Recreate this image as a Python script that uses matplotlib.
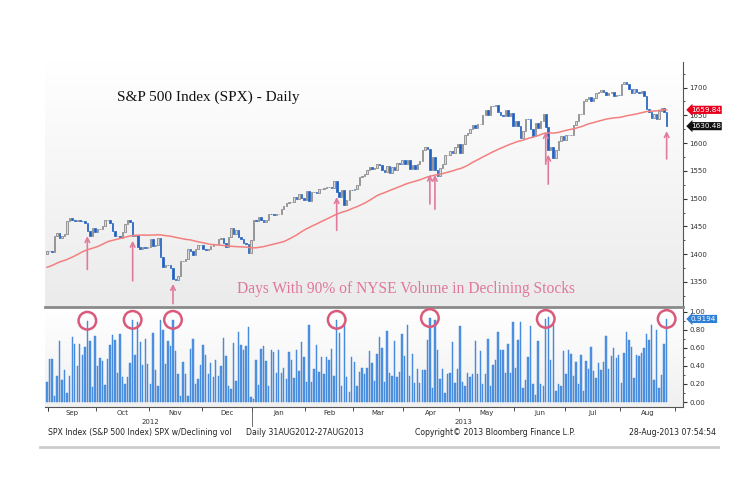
import numpy as np
import pandas as pd
import matplotlib
matplotlib.use('Agg')
import matplotlib.pyplot as plt
from matplotlib.transforms import blended_transform_factory

# S&P 500 closes before the window (needed for the 50 day average)
prior_closes = [1335.02, 1313.72, 1319.99, 1331.85, 1329.04, 1362.16,
                1365.51, 1374.02, 1367.58, 1354.68, 1352.46, 1341.47, 1341.45, 1334.76, 1356.78, 1353.64,
                1363.67, 1372.78, 1376.51, 1362.66, 1350.52, 1338.31, 1337.89, 1360.02, 1385.97, 1385.30, 1379.32,
                1375.32, 1365.00, 1390.99, 1394.23, 1401.35, 1402.22, 1402.80, 1405.87, 1404.11, 1403.93, 1405.53,
                1415.51, 1418.16, 1418.13, 1413.17, 1413.49, 1402.08, 1411.13, 1410.44, 1409.30, 1410.49, 1399.48]

# daily closes 31AUG2012 - 27AUG2013
closes = [1406.58,
          1404.94, 1403.44, 1432.12, 1437.92, 1429.08, 1433.56, 1436.56, 1459.99, 1465.77, 1461.19,
          1459.32, 1461.05, 1460.26, 1460.15, 1456.89, 1441.59, 1433.32, 1447.15, 1440.67,
          1444.49, 1445.75, 1450.99, 1461.40, 1460.93, 1455.88, 1441.48, 1432.56, 1432.84, 1428.59,
          1440.13, 1454.92, 1460.91, 1457.34, 1433.19, 1433.82, 1413.11, 1408.75, 1412.97, 1411.94, 1412.16,
          1427.59, 1414.20, 1417.26, 1428.39, 1394.53, 1377.51, 1379.85, 1380.03, 1374.53, 1355.49,
          1353.33, 1359.88, 1386.89, 1387.81, 1391.03, 1409.15, 1406.29, 1398.94, 1409.93, 1415.95, 1416.18,
          1409.46, 1407.05, 1409.28, 1413.94, 1418.07, 1418.55, 1427.84, 1428.48, 1419.45, 1413.58,
          1430.36, 1446.79, 1435.81, 1443.69, 1430.15, 1426.66, 1419.83, 1418.10, 1402.43, 1426.19,
          1462.42, 1459.37, 1466.47, 1461.89, 1457.15, 1461.02, 1472.12, 1472.05, 1470.68, 1472.34,
          1472.63, 1480.94, 1485.98, 1492.56, 1494.81, 1494.82, 1502.96, 1500.18, 1507.84, 1501.96, 1498.11,
          1513.17, 1495.71, 1511.29, 1512.12, 1509.39, 1517.93, 1517.01, 1519.43, 1520.33, 1521.38,
          1519.79, 1530.94, 1511.95, 1502.42, 1515.60, 1487.85, 1496.94, 1515.99, 1514.68,
          1518.20, 1525.20, 1539.79, 1541.46, 1544.26, 1551.18, 1556.22, 1552.48, 1554.52, 1563.23,
          1560.70, 1552.10, 1548.34, 1558.71, 1545.80, 1556.89, 1551.69, 1563.77, 1562.85, 1569.19,
          1562.17, 1570.25, 1553.69, 1559.98, 1553.28, 1563.07, 1568.61, 1587.73, 1593.37, 1588.85, 1552.36,
          1574.57, 1552.01, 1541.61, 1555.25, 1562.50, 1578.78, 1578.79, 1585.16, 1582.24, 1593.61, 1597.57,
          1582.70, 1597.59, 1614.42, 1617.50, 1625.96, 1632.69, 1626.67, 1633.70, 1633.77, 1650.34, 1658.78,
          1650.47, 1667.47, 1666.29, 1669.16, 1655.35, 1650.51, 1649.60, 1660.06, 1648.36, 1654.41, 1630.74,
          1640.42, 1631.38, 1608.90, 1622.56, 1643.38, 1642.81, 1626.13, 1612.52, 1636.36, 1626.73,
          1639.04, 1651.81, 1628.93, 1588.19, 1592.43, 1573.09, 1588.03, 1603.26, 1613.20, 1606.28,
          1614.96, 1614.08, 1615.41, 1631.89, 1640.46, 1652.32, 1652.62, 1675.02, 1680.19, 1682.50, 1676.26,
          1680.91, 1689.37, 1692.09, 1695.53, 1692.39, 1685.94, 1690.25, 1691.65, 1685.33, 1685.96, 1685.73,
          1706.87, 1709.67, 1707.14, 1697.37, 1690.91, 1697.48, 1691.42, 1689.47, 1694.16, 1685.39,
          1661.32, 1655.83, 1646.06, 1652.35, 1642.80, 1656.96, 1663.50, 1656.78, 1630.48]

# share of NYSE volume in declining stocks
decline_vol = [0.22, 0.48, 0.48, 0.07, 0.29, 0.67, 0.24, 0.35, 0.10, 0.29,
               0.72, 0.64, 0.40, 0.64, 0.52, 0.61, 0.90, 0.68, 0.17, 0.73,
               0.40, 0.49, 0.45, 0.19, 0.48, 0.63, 0.74, 0.69, 0.32, 0.75,
               0.28, 0.20, 0.28, 0.43, 0.91, 0.52, 0.89, 0.66, 0.41, 0.70,
               0.42, 0.20, 0.76, 0.35, 0.18, 0.91, 0.80, 0.42, 0.68, 0.62,
               0.91, 0.56, 0.31, 0.07, 0.44, 0.31, 0.07, 0.59, 0.70, 0.20,
               0.25, 0.41, 0.63, 0.52, 0.31, 0.43, 0.28, 0.46, 0.29, 0.40,
               0.71, 0.51, 0.18, 0.14, 0.65, 0.23, 0.77, 0.63, 0.58, 0.62,
               0.83, 0.06, 0.03, 0.47, 0.19, 0.59, 0.62, 0.45, 0.18, 0.58,
               0.55, 0.32, 0.58, 0.32, 0.38, 0.25, 0.55, 0.47, 0.27, 0.58,
               0.34, 0.66, 0.50, 0.22, 0.85, 0.22, 0.36, 0.63, 0.33, 0.50,
               0.31, 0.50, 0.46, 0.59, 0.29, 0.91, 0.76, 0.18, 0.86, 0.28,
               0.11, 0.50, 0.44, 0.18, 0.33, 0.38, 0.31, 0.38, 0.57, 0.43,
               0.23, 0.53, 0.72, 0.60, 0.22, 0.79, 0.32, 0.29, 0.67, 0.28,
               0.33, 0.75, 0.51, 0.85, 0.29, 0.53, 0.21, 0.36, 0.21, 0.35,
               0.35, 0.69, 0.93, 0.15, 0.91, 0.58, 0.26, 0.37, 0.10, 0.31,
               0.32, 0.66, 0.21, 0.37, 0.84, 0.22, 0.18, 0.32, 0.28, 0.31,
               0.67, 0.31, 0.57, 0.20, 0.31, 0.70, 0.18, 0.41, 0.46, 0.78,
               0.58, 0.58, 0.32, 0.64, 0.32, 0.89, 0.38, 0.69, 0.89, 0.16,
               0.24, 0.50, 0.84, 0.20, 0.08, 0.68, 0.20, 0.18, 0.92, 0.94,
               0.47, 0.85, 0.12, 0.20, 0.18, 0.57, 0.31, 0.58, 0.53, 0.29,
               0.44, 0.20, 0.52, 0.12, 0.45, 0.37, 0.61, 0.34, 0.27, 0.43,
               0.35, 0.44, 0.73, 0.37, 0.51, 0.60, 0.49, 0.52, 0.21, 0.54,
               0.77, 0.69, 0.61, 0.27, 0.52, 0.51, 0.54, 0.60, 0.75, 0.69,
               0.85, 0.24, 0.80, 0.16, 0.30, 0.64, 0.9194]

holidays = ['2012-09-03', '2012-10-29', '2012-10-30', '2012-11-22', '2012-12-25', '2013-01-01',
            '2013-01-21', '2013-02-18', '2013-03-29', '2013-05-27', '2013-07-04']

# 90% down days: arrows on the price chart, circles on the volume chart
arrow_days = [16, 34, 50, 115, 152, 154, 198, 199, 246]
arrow_lengths = [70, 82, 46, 70, 63, 72, 68, 63, 60]
circle_days = [16, 34, 50, 115, 152, 198, 246]

price_ticks = [1350, 1400, 1450, 1500, 1550, 1600, 1650, 1700]
vol_ticks = [0.0, 0.2, 0.4, 0.6, 0.8, 1.0]
ma_last = 1659.84

# trading day calendar (runs to the end of August so the last month tick lands right)
days = pd.bdate_range('2012-08-31', '2013-08-30')
days = days[~days.isin(pd.to_datetime(holidays))]
month_id = days.year * 12 + days.month
starts = np.where(np.diff(month_id) != 0)[0] + 1
bounds = np.r_[starts - 0.5, len(days) - 0.5]
centers = (bounds[:-1] + bounds[1:]) / 2
month_labels = [d.strftime('%b') for d in days[starts]]
jan_bound = starts[days[starts].month == 1][0] - 0.5

c = np.array(closes)
o = np.r_[prior_closes[-1], c[:-1]]
x = np.arange(len(c))
full = pd.Series(prior_closes + closes)
ma50 = full.rolling(50).mean().to_numpy()[len(prior_closes):]
vol = np.array(decline_vol)

fig = plt.figure(figsize=(7.49, 4.99), dpi=100)
ax = fig.add_axes([0.0601, 0.3848, 0.8518, 0.491])
ax2 = fig.add_axes([0.0601, 0.1844, 0.8518, 0.1964])

# soft grey gradient behind both panels
grad = np.linspace(1, 0, 256).reshape(-1, 1)
ax.imshow(grad, cmap=matplotlib.colors.LinearSegmentedColormap.from_list('g', ['#ebebeb', '#ffffff']),
          extent=[0, 1, 0, 1], transform=ax.transAxes, aspect='auto', zorder=0)
ax2.imshow(grad, cmap=matplotlib.colors.LinearSegmentedColormap.from_list('g2', ['#f0f0f0', '#ffffff']),
           extent=[0, 1, 0, 1], transform=ax2.transAxes, aspect='auto', zorder=0)

# candles
up = c >= o
ax.bar(x[up], (c - o)[up], bottom=o[up], width=0.55, color='#d8d8d8', edgecolor='#777777', linewidth=0.5, zorder=3)
ax.bar(x[~up], (o - c)[~up], bottom=c[~up], width=0.65, color='#1f5fc0', edgecolor='#1f5fc0', linewidth=0.5, zorder=3)
ax.plot(x, ma50, color='#f37f7f', lw=1.1, zorder=4)

# arrows under the 90% down days
for d, ln in zip(arrow_days, arrow_lengths):
    head = min(o[d], c[d]) - 4
    ax.annotate('', xy=(d, head), xytext=(d, max(head - ln, 1306)),
                arrowprops=dict(arrowstyle='->', color='#e27a9c', lw=1.2, mutation_scale=8), zorder=6)

ax.text(0.113, 0.857, 'S&P 500 Index (SPX) - Daily', transform=ax.transAxes, ha='left', va='center',
        fontsize=11, family='Liberation Serif', color='#111111')
ax.text(0.566, 0.073, 'Days With 90% of NYSE Volume in Declining Stocks', transform=ax.transAxes,
        ha='center', va='center', fontsize=11.2, family='Liberation Serif', color='#e0789a')

ax.set_xlim(-0.8, 252.5)
ax.set_ylim(1305, 1746)
ax.yaxis.tick_right()
ax.set_yticks(price_ticks)
ax.set_yticks(np.arange(1325, 1750, 25), minor=True)
ax.tick_params(axis='y', which='major', labelsize=5, colors='#333333', length=3, width=0.8, pad=1.5)
ax.tick_params(axis='y', which='minor', length=1.5, colors='#333333')
ax.set_xticks([])
for s in ['left', 'top']:
    ax.spines[s].set_visible(False)
ax.spines['right'].set_color('#555555')
ax.spines['bottom'].set_color('#8a8a8a')
ax.spines['bottom'].set_linewidth(2)

# value tags on the right axis
tr = blended_transform_factory(ax.transAxes, ax.transData)
ax.text(1.012, ma_last, f'{ma_last:.2f}', transform=tr, ha='left', va='center', fontsize=5.2,
        color='white', bbox=dict(boxstyle='larrow,pad=0.15', fc='#e8001c', ec='none'), zorder=10, clip_on=False)
ax.text(1.012, c[-1], f'{c[-1]:.2f}', transform=tr, ha='left', va='center', fontsize=5.2,
        color='white', bbox=dict(boxstyle='larrow,pad=0.15', fc='#111111', ec='none'), zorder=10, clip_on=False)

# declining volume bars
ax2.bar(x, vol, width=0.55, color='#4f94e3', edgecolor='#3a80d6', linewidth=0.3, zorder=3)
ax2.scatter(circle_days, vol[circle_days], s=160, facecolors='none', edgecolors='#d95a7b',
            linewidths=1.8, zorder=5, clip_on=False)
ax2.set_xlim(-0.8, 252.5)
ax2.set_ylim(-0.055, 1.03)
ax2.yaxis.tick_right()
ax2.set_yticks(vol_ticks)
ax2.set_yticklabels([f'{v:.2f}' for v in vol_ticks])
ax2.set_yticks(np.arange(0.1, 1.0, 0.2), minor=True)
ax2.tick_params(axis='y', which='major', labelsize=5, colors='#333333', length=3, width=0.8, pad=1.5)
ax2.tick_params(axis='y', which='minor', length=1.5, colors='#333333')
ax2.set_xticks(centers)
ax2.set_xticklabels(month_labels)
ax2.set_xticks(np.r_[0.5, bounds], minor=True)
ax2.tick_params(axis='x', which='major', length=0, labelsize=5, colors='#333333', pad=2)
ax2.tick_params(axis='x', which='minor', length=3, colors='#333333')
for s in ['left', 'top']:
    ax2.spines[s].set_visible(False)
ax2.spines['right'].set_color('#555555')
ax2.spines['bottom'].set_color('#555555')

tr2 = blended_transform_factory(ax2.transAxes, ax2.transData)
ax2.text(1.012, vol[-1], f'{vol[-1]:.4f}', transform=tr2, ha='left', va='center', fontsize=5.2,
         color='white', bbox=dict(boxstyle='larrow,pad=0.15', fc='#2f7fd6', ec='none'), zorder=10, clip_on=False)

tx = blended_transform_factory(ax2.transData, ax2.transAxes)
ax2.plot([jan_bound, jan_bound], [0, -0.19], color='#555555', lw=0.6, transform=tx, clip_on=False)
ax2.text((0.5 + jan_bound) / 2, -0.155, '2012', transform=tx, ha='center', va='center',
         fontsize=5, color='#333333')
ax2.text((jan_bound + bounds[-1]) / 2, -0.155, '2013', transform=tx, ha='center', va='center',
         fontsize=5, color='#333333')

# footer
fig.text(0.064, 0.134, 'SPX Index (S&P 500 Index) SPX w/Declining vol', fontsize=5.6, color='#222222', va='center')
fig.text(0.328, 0.134, 'Daily 31AUG2012-27AUG2013', fontsize=5.6, color='#222222', va='center')
fig.text(0.554, 0.134, 'Copyright\u00a9 2013 Bloomberg Finance L.P.', fontsize=5.6, color='#222222', va='center')
fig.text(0.956, 0.134, '28-Aug-2013 07:54:54', fontsize=5.6, color='#222222', va='center', ha='right')
fig.add_artist(plt.Line2D([0.053, 0.959], [0.105, 0.105], color='#cccccc', lw=2))

fig.savefig('out.png', dpi=100)
